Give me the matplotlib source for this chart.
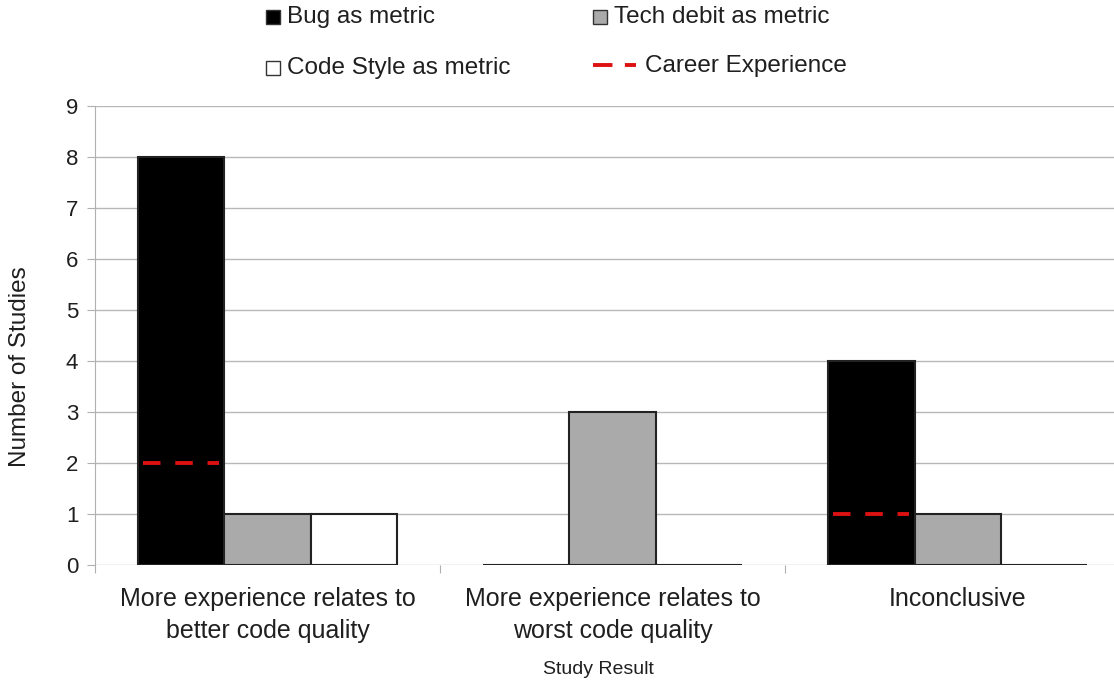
import numpy as np
import matplotlib
matplotlib.use('Agg')
from matplotlib import pyplot as plt
from matplotlib.patches import Rectangle
from matplotlib.lines import Line2D

# study counts per result category
categories = ['More experience relates to\nbetter code quality',
              'More experience relates to\nworst code quality',
              'Inconclusive']
bug_metric = [8, 0, 4]
tech_debt_metric = [1, 3, 1]
code_style_metric = [1, 0, 0]
career_experience = [2, 0, 1]  # 0 means none reported
series_labels = ['Bug as metric', 'Tech debit as metric',
                 'Code Style as metric', 'Career Experience']
yticks = list(range(0, 10))

plt.rcParams['font.family'] = ['Liberation Sans', 'DejaVu Sans']


def main():
    fig = plt.figure(figsize=(11.14, 6.85), dpi=100)
    ax = fig.add_axes([95 / 1114, 120 / 685, 1 - 95 / 1114, 459 / 685])

    x = np.arange(len(categories))
    w = 0.25
    grey = '#aaaaaa'
    txt = '#1f1f1f'

    ax.bar(x - w, bug_metric, w, color='black', edgecolor='#222222', lw=1.5, zorder=3)
    ax.bar(x, tech_debt_metric, w, color=grey, edgecolor='#222222', lw=1.5, zorder=3)
    ax.bar(x + w, code_style_metric, w, color='white', edgecolor='#222222', lw=1.5, zorder=3)

    # career experience drawn inside the bug bars
    for xi, val in zip(x, career_experience):
        if val > 0:
            ax.plot([xi - 1.5 * w + 0.015, xi - 0.5 * w - 0.015], [val, val],
                    color='#dd1111', lw=2.8, dashes=(4.5, 3.8), zorder=4)

    ax.set_xlim(-0.5, 2.453)
    ax.set_ylim(0, 9)
    ax.set_yticks(yticks)
    ax.yaxis.grid(True, color='#b8b8b8', lw=1)
    ax.set_axisbelow(True)
    for s in ['top', 'right', 'bottom']:
        ax.spines[s].set_visible(False)
    ax.spines['left'].set_color('#b0b0b0')
    ax.tick_params(axis='y', length=6, color='#b0b0b0', labelsize=16,
                   labelcolor=txt, pad=6)

    # category boundaries as major ticks, names on minor ticks
    ax.set_xticks([-0.5, 0.5, 1.5])
    ax.set_xticklabels([])
    ax.set_xticks(x, minor=True)
    ax.set_xticklabels(categories, minor=True, fontsize=18, color=txt,
                       linespacing=1.42)
    ax.tick_params(axis='x', which='major', length=6, color='#b0b0b0')
    ax.tick_params(axis='x', which='minor', length=0, pad=16)

    fig.text(20 / 1114, 1 - 367 / 685, 'Number of Studies', fontsize=17.5,
             color=txt, rotation=90, ha='center', va='center')
    fig.text(598 / 1114, 1 - 670 / 685, 'Study Result', fontsize=14,
             color=txt, ha='center', va='center')

    # legend laid out in two rows
    fills = ['black', grey, 'white']
    spots = [(266, 17), (593, 17), (266, 68)]
    for (px, py), fc, lab in zip(spots, fills, series_labels[:3]):
        fig.add_artist(Rectangle((px / 1114, 1 - (py + 7) / 685), 14 / 1114, 14 / 685,
                                 transform=fig.transFigure, facecolor=fc,
                                 edgecolor='#333333', lw=1))
        fig.text((px + 21) / 1114, 1 - py / 685, lab, fontsize=17.5, color=txt,
                 va='center', ha='left')
    fig.add_artist(Line2D([593 / 1114, 636 / 1114], [1 - 65 / 685, 1 - 65 / 685],
                          transform=fig.transFigure, color='#dd1111', lw=2.8,
                          dashes=(5.0, 3.2)))
    fig.text(645 / 1114, 1 - 66 / 685, series_labels[3], fontsize=17.5, color=txt,
             va='center', ha='left')

    fig.savefig('out.png', dpi=100)


if __name__ == '__main__':
    main()
